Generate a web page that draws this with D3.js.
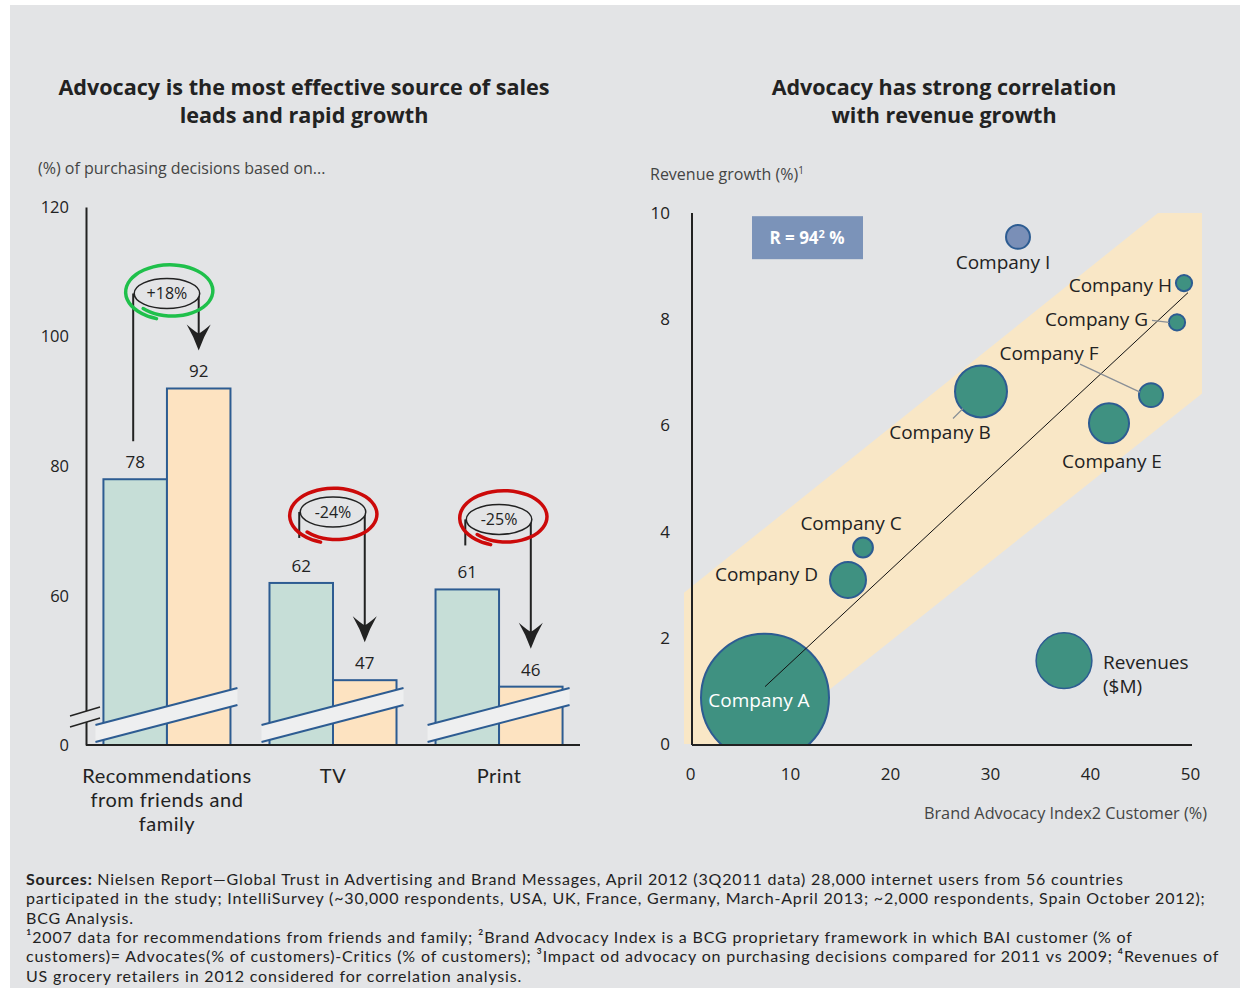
<!DOCTYPE html>
<html>
<head>
<meta charset="utf-8">
<script src="https://cdn.jsdelivr.net/npm/d3@7"></script>
<style>
  body { margin: 0; background: #fff; }
  svg { display: block; font-family: "Open Sans", Lato, sans-serif; }
</style>
</head>
<body>
<svg width="1240" height="988"></svg>
<script>
// left chart data
const categories = ["Recommendations from friends and family", "TV", "Print"];
const before = [78, 62, 61];
const after = [92, 47, 46];
const changes = ["+18%", "-24%", "-25%"];
const leftTicks = [60, 80, 100, 120];

// right chart data
const companies = ["Company A", "Company B", "Company C", "Company D", "Company E",
    "Company F", "Company G", "Company H", "Company I"];
const advocacy = [7.5, 29.1, 17.3, 15.8, 41.9, 46.1, 48.7, 49.4, 32.8];
const growth = [0.87, 6.64, 3.7, 3.09, 6.04, 6.57, 7.94, 8.68, 9.55];
const revenues = [100, 16.5, 2.4, 7.9, 9.8, 3.5, 1.6, 1.6, 3.5];
const rightYTicks = [0, 2, 4, 6, 8, 10];
const rightXTicks = [0, 10, 20, 30, 40, 50];
const trend = [[7.5, 1.08], [49.8, 8.5]];
const corridor = [[-0.6, 0], [-0.6, 2.85], [46.8, 10], [51.2, 10], [51.2, 6.6], [7.1, 0]];
const legendRevenue = 19;

const svg = d3.select("svg");
const bg = "#e3e4e6",
    ink = "#222",
    blue = "#2d5c92";

svg.append("rect")
    .attr("x", 10).attr("y", 5)
    .attr("width", 1230).attr("height", 983)
    .attr("fill", bg);

function title(x, lines, size) {
    const t = svg.append("text")
        .attr("text-anchor", "middle")
        .attr("font-weight", 700)
        .attr("font-size", size)
        .attr("fill", ink);
    lines.forEach(function(l, i) {
        t.append("tspan").attr("x", x).attr("y", 95 + i * 28).text(l);
    });
}
title(304, ["Advocacy is the most effective source of sales", "leads and rapid growth"], 21.6);
title(944, ["Advocacy has strong correlation", "with revenue growth"], 21.5);

// ---------- left: bars ----------
const breakValue = 37; // axis is broken, "0" sits on the baseline
const yL = d3.scaleLinear().domain([breakValue, 120]).range([745, 207]);
const x0 = d3.scaleBand().domain(categories).range([86, 580])
    .paddingInner(0.235).paddingOuter(0.105);
const x1 = d3.scaleBand().domain(["before", "after"]).range([0, x0.bandwidth()]);

svg.append("text")
    .attr("x", 38).attr("y", 174)
    .attr("font-size", 16).attr("fill", "#444")
    .text("(%) of purchasing decisions based on...");

const leftAxis = svg.append("g")
    .attr("transform", "translate(86,0)")
    .call(d3.axisLeft(yL).tickValues(leftTicks).tickSize(0).tickPadding(17).tickSizeOuter(0));
leftAxis.select(".domain").attr("stroke", ink).attr("stroke-width", 2);
leftAxis.selectAll("text").attr("font-size", 16.5).attr("fill", ink).attr("font-family", "Open Sans");
svg.append("text")
    .attr("x", 69).attr("y", 745).attr("dy", "0.35em")
    .attr("text-anchor", "end")
    .attr("font-size", 16.5).attr("fill", ink)
    .text("0");

const groups = svg.append("g")
    .selectAll("g")
    .data(categories)
    .enter().append("g")
    .attr("transform", function(d) { return "translate(" + x0(d) + ",0)"; });

groups.append("rect")
    .attr("x", x1("before"))
    .attr("y", function(d, i) { return yL(before[i]); })
    .attr("width", x1.bandwidth())
    .attr("height", function(d, i) { return yL(breakValue) - yL(before[i]); })
    .attr("fill", "#c6ded7")
    .attr("stroke", blue).attr("stroke-width", 2);

groups.append("rect")
    .attr("x", x1("after"))
    .attr("y", function(d, i) { return yL(after[i]); })
    .attr("width", x1.bandwidth())
    .attr("height", function(d, i) { return yL(breakValue) - yL(after[i]); })
    .attr("fill", "#fde3c1")
    .attr("stroke", blue).attr("stroke-width", 2);

groups.append("text")
    .attr("x", x1("before") + x1.bandwidth() / 2)
    .attr("y", function(d, i) { return yL(before[i]) - 11; })
    .attr("text-anchor", "middle").attr("font-size", 17).attr("fill", ink)
    .text(function(d, i) { return before[i]; });

groups.append("text")
    .attr("x", x1("after") + x1.bandwidth() / 2)
    .attr("y", function(d, i) { return yL(after[i]) - 11; })
    .attr("text-anchor", "middle").attr("font-size", 17).attr("fill", ink)
    .text(function(d, i) { return after[i]; });

// break bands across the bars
groups.each(function() {
    const g = d3.select(this),
        x0b = -8, x1b = x0.bandwidth() + 7;
    g.append("path")
        .attr("d", "M" + x0b + ",742 L" + x1b + ",705 L" + x1b + ",688 L" + x0b + ",725 Z")
        .attr("fill", "#eeeff0");
    [742, 725].forEach(function(yy) {
        g.append("line")
            .attr("x1", x0b).attr("y1", yy)
            .attr("x2", x1b).attr("y2", yy - 37)
            .attr("stroke", blue).attr("stroke-width", 2);
    });
});

const bottomL = svg.append("g")
    .attr("transform", "translate(0,745)")
    .call(d3.axisBottom(x0).tickSize(0).tickPadding(24).tickSizeOuter(0));
bottomL.select(".domain").attr("d", "M86,0H580").attr("stroke", ink).attr("stroke-width", 2);
bottomL.selectAll("text").attr("font-size", 20).attr("fill", ink).attr("font-family", "Lato")
    .attr("letter-spacing", 0.5)
    .call(wrap, 180);

// break on the y axis
svg.append("path")
    .attr("d", "M70,716 L100,707 L100,718 L70,727 Z")
    .attr("fill", bg);
[716, 727].forEach(function(yy) {
    svg.append("line")
        .attr("x1", 70).attr("y1", yy).attr("x2", 100).attr("y2", yy - 9)
        .attr("stroke", ink).attr("stroke-width", 1.5);
});

// change annotations
const annoOffset = [95, 71, 70];
const loopColor = ["#1fc04b", "#cc0a0a", "#cc0a0a"];
const loopShift = [[4, -2], [2, 3], [6, -2]];
const loopLine = d3.line().curve(d3.curveCardinal);

categories.forEach(function(c, i) {
    const bx = x0(c) + x1("before") + x1.bandwidth() / 2,
        ax = x0(c) + x1("after") + x1.bandwidth() / 2,
        cx = (bx + ax) / 2,
        cy = yL(Math.max(before[i], after[i])) - annoOffset[i],
        g = svg.append("g");
    const stubEnd = after[i] > before[i] ? yL(before[i]) - 38 : cy + 26;
    g.append("line")
        .attr("x1", bx - 2).attr("y1", cy).attr("x2", bx - 2).attr("y2", stubEnd)
        .attr("stroke", ink).attr("stroke-width", 2);
    const tip = yL(after[i]) - 38;
    g.append("line")
        .attr("x1", ax).attr("y1", cy).attr("x2", ax).attr("y2", tip - 14)
        .attr("stroke", ink).attr("stroke-width", 2);
    g.append("path")
        .attr("transform", "translate(" + ax + "," + tip + ")")
        .attr("d", "M0,0 Q-5,-14 -12,-26 Q-4,-19 0,-17 Q4,-19 12,-26 Q5,-14 0,0 Z")
        .attr("fill", ink);
    const rx = (ax - bx) / 2 + 1;
    g.append("ellipse")
        .attr("cx", cx).attr("cy", cy).attr("rx", rx).attr("ry", 15)
        .attr("fill", bg).attr("stroke", ink).attr("stroke-width", 1.5);
    g.append("text")
        .attr("x", cx).attr("y", cy).attr("dy", "0.35em")
        .attr("text-anchor", "middle").attr("font-size", 16).attr("fill", ink)
        .text(changes[i]);
    // hand-drawn loop
    const lx = cx + loopShift[i][0], ly = cy + loopShift[i][1], pts = [];
    for (let k = 0; k <= 28; k++) {
        const a = Math.PI * 0.75 - k / 28 * Math.PI * 2.15,
            s = 0.86 + 0.16 * k / 28;
        pts.push([lx + Math.cos(a) * (rx + 13) * s, ly + Math.sin(a) * 28 * s]);
    }
    g.append("path")
        .attr("d", loopLine(pts))
        .attr("fill", "none")
        .attr("stroke", loopColor[i]).attr("stroke-width", 3.5)
        .attr("stroke-linecap", "round");
});

function wrap(text, width) {
    text.each(function() {
        const t = d3.select(this),
            words = t.text().split(/\s+/),
            y = t.attr("y"),
            dy = parseFloat(t.attr("dy"));
        let line = [],
            lineNo = 0,
            tspan = t.text(null).append("tspan").attr("x", 0).attr("y", y).attr("dy", dy + "em");
        words.forEach(function(w) {
            line.push(w);
            tspan.text(line.join(" "));
            if (tspan.node().getComputedTextLength() > width && line.length > 1) {
                line.pop();
                tspan.text(line.join(" "));
                line = [w];
                tspan = t.append("tspan").attr("x", 0).attr("y", y)
                    .attr("dy", (++lineNo * 1.2 + dy) + "em").text(w);
            }
        });
    });
}

// ---------- right: bubbles ----------
const xR = d3.scaleLinear().domain([0, 50]).range([690, 1190]);
const yR = d3.scaleLinear().domain([0, 10]).range([744, 213]);
const rR = d3.scaleSqrt().domain([0, 100]).range([0, 64]);

svg.append("text")
    .attr("x", 650).attr("y", 180)
    .attr("font-size", 16).attr("fill", "#444")
    .text("Revenue growth (%)")
    .append("tspan").attr("dy", -6).attr("font-size", 10).text("1");

svg.append("defs").append("clipPath").attr("id", "plot")
    .append("rect").attr("x", 670).attr("y", 200).attr("width", 560).attr("height", 545);

const plot = svg.append("g").attr("clip-path", "url(#plot)");

plot.append("path")
    .attr("d", d3.line().x(function(d) { return xR(d[0]); }).y(function(d) { return yR(d[1]); })(corridor) + "Z")
    .attr("fill", "#f9e7c6");

const bubbles = companies.map(function(c, i) {
    return { name: c, x: advocacy[i], y: growth[i], r: revenues[i] };
});

// label placement relative to each bubble centre
const labelPos = {
    "Company A": [-6, 3, "middle"],
    "Company B": [-41, 41, "middle"],
    "Company C": [-12, -24, "middle"],
    "Company D": [-30, -6, "end"],
    "Company E": [3, 38, "middle"],
    "Company F": [-102, -42, "middle"],
    "Company G": [-29, -3, "end"],
    "Company H": [-12, 2, "end"],
    "Company I": [-15, 25, "middle"]
};
const leaders = {
    "Company B": [[-28, 27], [-18, 17]],
    "Company F": [[-71, -31], [-11, -3]],
    "Company G": [[-25, -2], [-8, 0]]
};

plot.selectAll("circle.company")
    .data(bubbles)
    .enter().append("circle")
    .attr("class", "company")
    .attr("cx", function(d) { return xR(d.x); })
    .attr("cy", function(d) { return yR(d.y); })
    .attr("r", function(d) { return rR(d.r); })
    .attr("fill", function(d) { return d.name === "Company I" ? "#7a8fb7" : "#3f9181"; })
    .attr("stroke", blue).attr("stroke-width", 2);

plot.append("line")
    .attr("x1", xR(trend[0][0])).attr("y1", yR(trend[0][1]))
    .attr("x2", xR(trend[1][0])).attr("y2", yR(trend[1][1]))
    .attr("stroke", "#111").attr("stroke-width", 1);

bubbles.forEach(function(d) {
    const cx = xR(d.x), cy = yR(d.y);
    if (leaders[d.name]) {
        const l = leaders[d.name];
        svg.append("line")
            .attr("x1", cx + l[0][0]).attr("y1", cy + l[0][1])
            .attr("x2", cx + l[1][0]).attr("y2", cy + l[1][1])
            .attr("stroke", "#8a8f96").attr("stroke-width", 1.3);
    }
    const p = labelPos[d.name];
    svg.append("text")
        .attr("x", cx + p[0]).attr("y", cy + p[1]).attr("dy", "0.35em")
        .attr("text-anchor", p[2])
        .attr("font-size", 19)
        .attr("fill", d.name === "Company A" ? "#fff" : ink)
        .text(d.name);
});

// legend bubble
const lgx = xR(37.4), lgy = yR(1.57);
svg.append("circle")
    .attr("cx", lgx).attr("cy", lgy).attr("r", rR(legendRevenue))
    .attr("fill", "#3f9181").attr("stroke", blue).attr("stroke-width", 1.5);
svg.append("text")
    .attr("x", lgx + 39).attr("y", lgy + 2)
    .attr("font-size", 19).attr("fill", ink)
    .selectAll("tspan").data(["Revenues", "($M)"])
    .enter().append("tspan")
    .attr("x", lgx + 39).attr("dy", function(d, i) { return i ? "1.25em" : "0.35em"; })
    .text(function(d) { return d; });

// R box
svg.append("rect")
    .attr("x", xR(6.2)).attr("y", yR(9.94))
    .attr("width", 111).attr("height", 43)
    .attr("fill", "#7b93b9");
svg.append("text")
    .attr("x", xR(6.2) + 55).attr("y", yR(9.94) + 22).attr("dy", "0.35em")
    .attr("text-anchor", "middle")
    .attr("font-size", 17).attr("font-weight", 700).attr("fill", "#fff")
    .text("R = 94")
    .call(function(t) {
        t.append("tspan").attr("dy", -6).attr("font-size", 11).text("2");
        t.append("tspan").attr("dy", 6).text(" %");
    });

const yAxisR = svg.append("g")
    .attr("transform", "translate(692,0)")
    .call(d3.axisLeft(yR).tickValues(rightYTicks).tickSize(0).tickPadding(22).tickSizeOuter(0));
yAxisR.select(".domain").attr("d", "M0,745V213").attr("stroke", ink).attr("stroke-width", 2);
yAxisR.selectAll("text").attr("font-size", 17).attr("fill", ink).attr("font-family", "Open Sans");

const xAxisR = svg.append("g")
    .attr("transform", "translate(0,745)")
    .call(d3.axisBottom(xR).tickValues(rightXTicks).tickSize(0).tickPadding(23).tickSizeOuter(0));
xAxisR.select(".domain").attr("d", "M692,0H1192").attr("stroke", ink).attr("stroke-width", 2);
xAxisR.selectAll("text").attr("font-size", 17).attr("fill", ink).attr("font-family", "Open Sans");

svg.append("text")
    .attr("x", 1207).attr("y", 819)
    .attr("text-anchor", "end")
    .attr("font-size", 16.3).attr("fill", "#444")
    .text("Brand Advocacy Index2 Customer (%)");

// ---------- footnotes ----------
const notes = [
    "Nielsen Report\u2014Global Trust in Advertising and Brand Messages, April 2012 (3Q2011 data) 28,000 internet users from 56 countries",
    "participated in the study; IntelliSurvey (~30,000 respondents, USA, UK, France, Germany, March-April 2013; ~2,000 respondents, Spain October 2012);",
    "BCG Analysis.",
    "\u00b92007 data for recommendations from friends and family; \u00b2Brand Advocacy Index is a BCG proprietary framework in which BAI customer (% of",
    "customers)= Advocates(% of customers)-Critics (% of customers); \u00b3Impact od advocacy on purchasing decisions compared for 2011 vs 2009; \u2074Revenues of",
    "US grocery retailers in 2012 considered for correlation analysis."
];
const foot = svg.append("g")
    .attr("font-family", "Lato")
    .attr("font-size", 16)
    .attr("letter-spacing", 0.83)
    .attr("fill", ink);
notes.forEach(function(n, i) {
    const t = foot.append("text").attr("x", 26).attr("y", 885 + i * 19.3);
    if (i === 0) t.append("tspan").attr("font-weight", 700).text("Sources: ");
    t.append("tspan").text(n);
});
</script>
</body>
</html>
